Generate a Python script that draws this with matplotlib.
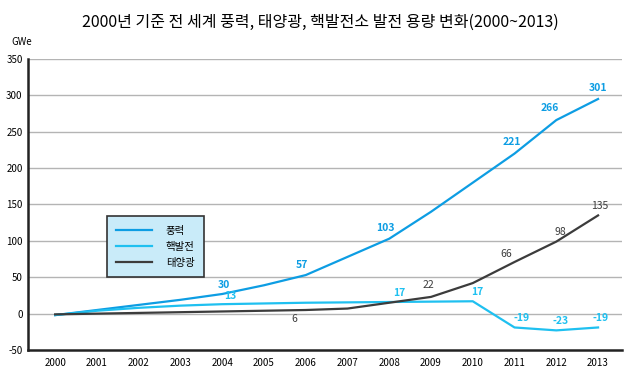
import numpy as np
import matplotlib.pyplot as plt

plt.rcParams['font.family'] = ['Noto Sans CJK KR', 'DejaVu Sans']

years = list(range(2000, 2014))
wind = [-2, 5, 12, 19, 27, 39, 53, 78, 103, 140, 180, 220, 266, 295]
nuclear = [-2, 4, 8, 11, 13, 14, 15, 15.5, 16, 16.5, 17, -19, -23, -19]
solar = [-1, 0, 1, 2, 3, 4, 5, 7, 15, 23, 42, 71, 99, 135]

# (year, text, dx, dy) offsets in points
wind_labels = [(2004, '30', 1, 3), (2006, '57', -3, 4), (2008, '103', -3, 4),
               (2011, '221', -2, 5), (2012, '266', -5, 5), (2013, '301', 0, 4)]
nuclear_labels = [(2004, '13', 6, 2), (2008, '17', 7, 3), (2010, '17', 3, 3),
                  (2011, '-19', 5, 3), (2012, '-23', 3, 3), (2013, '-19', 2, 3)]
solar_labels = [(2006, '6', -8, -10), (2009, '22', -2, 5), (2011, '66', -6, 2),
                (2012, '98', 3, 3), (2013, '135', 1, 3)]

c_wind = '#0d9de3'
c_nuc = '#1fc0f0'
c_sol = '#3c3c3c'

fig = plt.figure(figsize=(6.4, 3.78), dpi=100)
ax = fig.add_axes([0.044, 0.074, 0.928, 0.77])

for y in range(0, 351, 50):
    ax.axhline(y, color='#b4b4b4', lw=1, zorder=0)

ax.plot(years, wind, color=c_wind, lw=1.6, label='풍력')
ax.plot(years, nuclear, color=c_nuc, lw=1.6, label='핵발전')
ax.plot(years, solar, color=c_sol, lw=1.6, label='태양광')

def put(labels, series, color, bold):
    for yr, txt, dx, dy in labels:
        v = series[years.index(yr)]
        ax.annotate(txt, (yr, v), xytext=(dx, dy), textcoords='offset points',
                    ha='center', va='bottom', fontsize=7.5, color=color,
                    fontweight='bold' if bold else 'normal')

put(wind_labels, wind, c_wind, True)
put(nuclear_labels, nuclear, c_nuc, True)
put(solar_labels, solar, c_sol, False)

ax.set_xlim(1999.354, 2013.575)
ax.set_ylim(-50, 350)
ax.set_xticks(years)
ax.set_xticklabels([str(y) for y in years], fontsize=7)
ax.set_yticks(range(-50, 351, 50))
ax.set_yticklabels([str(y) for y in range(-50, 351, 50)], fontsize=7)
ax.tick_params(length=0, pad=6)
ax.tick_params(axis='y', pad=4)
for s in ['top', 'right']:
    ax.spines[s].set_visible(False)
for s in ['left', 'bottom']:
    ax.spines[s].set_linewidth(1.8)
    ax.spines[s].set_color('#222222')

leg = ax.legend(loc='upper left', bbox_to_anchor=(0.132, 0.46), fontsize=7.5,
                frameon=True, fancybox=False, handlelength=3.5, borderpad=0.9,
                labelspacing=0.6, handletextpad=1.3, borderaxespad=0)
leg.get_frame().set_facecolor('#c9ebf9')
leg.get_frame().set_edgecolor('#333333')
leg.get_frame().set_linewidth(1.2)
leg.get_frame().set_alpha(1)

fig.text(0.5, 0.94, '2000년 기준 전 세계 풍력, 태양광, 핵발전소 발전 용량 변화(2000~2013)',
         ha='center', va='center', fontsize=11.5)
fig.text(0.018, 0.888, 'GWe', fontsize=7, va='center')

fig.savefig('out.png', dpi=100)
